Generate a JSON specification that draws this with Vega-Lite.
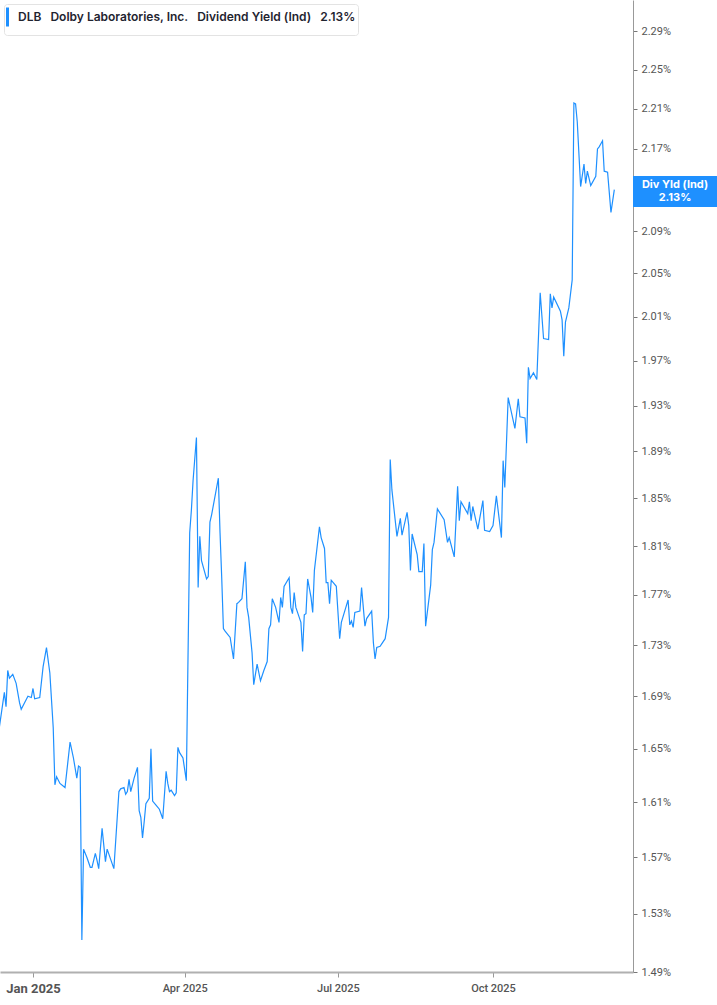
{
  "$schema": "https://vega.github.io/schema/vega-lite/v6.json",
  "width": 633,
  "height": 972,
  "autosize": "none",
  "padding": {"left": 0, "top": 0, "right": 84, "bottom": 33},
  "background": "white",
  "config": {"view": {"stroke": null}, "font": "Roboto"},
  "data": {
    "values": [
      {"date": "2024-12-12", "yield": 1.666}, {"date": "2024-12-15", "yield": 1.693}, {"date": "2024-12-16", "yield": 1.682},
      {"date": "2024-12-17", "yield": 1.710}, {"date": "2024-12-18", "yield": 1.704}, {"date": "2024-12-20", "yield": 1.707},
      {"date": "2024-12-22", "yield": 1.700}, {"date": "2024-12-24", "yield": 1.685}, {"date": "2024-12-25", "yield": 1.680},
      {"date": "2024-12-27", "yield": 1.685}, {"date": "2024-12-29", "yield": 1.690}, {"date": "2024-12-31", "yield": 1.689},
      {"date": "2025-01-01", "yield": 1.696}, {"date": "2025-01-02", "yield": 1.688}, {"date": "2025-01-05", "yield": 1.689},
      {"date": "2025-01-07", "yield": 1.713}, {"date": "2025-01-09", "yield": 1.728}, {"date": "2025-01-11", "yield": 1.708},
      {"date": "2025-01-13", "yield": 1.666}, {"date": "2025-01-14", "yield": 1.623}, {"date": "2025-01-15", "yield": 1.629},
      {"date": "2025-01-17", "yield": 1.624}, {"date": "2025-01-20", "yield": 1.621}, {"date": "2025-01-23", "yield": 1.655},
      {"date": "2025-01-25", "yield": 1.643}, {"date": "2025-01-27", "yield": 1.628}, {"date": "2025-01-28", "yield": 1.637},
      {"date": "2025-01-29", "yield": 1.636}, {"date": "2025-01-30", "yield": 1.512}, {"date": "2025-01-31", "yield": 1.576},
      {"date": "2025-02-02", "yield": 1.570}, {"date": "2025-02-04", "yield": 1.563}, {"date": "2025-02-05", "yield": 1.563},
      {"date": "2025-02-07", "yield": 1.573}, {"date": "2025-02-08", "yield": 1.568}, {"date": "2025-02-09", "yield": 1.562},
      {"date": "2025-02-11", "yield": 1.591}, {"date": "2025-02-13", "yield": 1.567}, {"date": "2025-02-14", "yield": 1.576},
      {"date": "2025-02-16", "yield": 1.569}, {"date": "2025-02-18", "yield": 1.562}, {"date": "2025-02-21", "yield": 1.618},
      {"date": "2025-02-22", "yield": 1.620}, {"date": "2025-02-24", "yield": 1.621}, {"date": "2025-02-25", "yield": 1.616},
      {"date": "2025-02-26", "yield": 1.618}, {"date": "2025-02-27", "yield": 1.627}, {"date": "2025-02-28", "yield": 1.618},
      {"date": "2025-03-02", "yield": 1.628}, {"date": "2025-03-04", "yield": 1.636}, {"date": "2025-03-05", "yield": 1.604},
      {"date": "2025-03-06", "yield": 1.599}, {"date": "2025-03-07", "yield": 1.584}, {"date": "2025-03-08", "yield": 1.596},
      {"date": "2025-03-09", "yield": 1.609}, {"date": "2025-03-11", "yield": 1.613}, {"date": "2025-03-12", "yield": 1.650},
      {"date": "2025-03-13", "yield": 1.611}, {"date": "2025-03-15", "yield": 1.608}, {"date": "2025-03-17", "yield": 1.605},
      {"date": "2025-03-19", "yield": 1.598}, {"date": "2025-03-21", "yield": 1.633}, {"date": "2025-03-22", "yield": 1.624},
      {"date": "2025-03-23", "yield": 1.618}, {"date": "2025-03-24", "yield": 1.619}, {"date": "2025-03-26", "yield": 1.615},
      {"date": "2025-03-27", "yield": 1.617}, {"date": "2025-03-28", "yield": 1.651}, {"date": "2025-03-29", "yield": 1.647},
      {"date": "2025-03-31", "yield": 1.643}, {"date": "2025-04-02", "yield": 1.626}, {"date": "2025-04-04", "yield": 1.821},
      {"date": "2025-04-05", "yield": 1.840}, {"date": "2025-04-06", "yield": 1.865}, {"date": "2025-04-08", "yield": 1.902},
      {"date": "2025-04-09", "yield": 1.776}, {"date": "2025-04-10", "yield": 1.818}, {"date": "2025-04-11", "yield": 1.798},
      {"date": "2025-04-14", "yield": 1.783}, {"date": "2025-04-15", "yield": 1.785}, {"date": "2025-04-16", "yield": 1.830},
      {"date": "2025-04-17", "yield": 1.836}, {"date": "2025-04-21", "yield": 1.867}, {"date": "2025-04-22", "yield": 1.821},
      {"date": "2025-04-23", "yield": 1.784}, {"date": "2025-04-24", "yield": 1.743}, {"date": "2025-04-25", "yield": 1.741},
      {"date": "2025-04-28", "yield": 1.736}, {"date": "2025-04-30", "yield": 1.719}, {"date": "2025-05-02", "yield": 1.763},
      {"date": "2025-05-03", "yield": 1.764}, {"date": "2025-05-05", "yield": 1.767}, {"date": "2025-05-07", "yield": 1.797},
      {"date": "2025-05-08", "yield": 1.760}, {"date": "2025-05-09", "yield": 1.752}, {"date": "2025-05-11", "yield": 1.724},
      {"date": "2025-05-12", "yield": 1.699}, {"date": "2025-05-14", "yield": 1.715}, {"date": "2025-05-16", "yield": 1.702},
      {"date": "2025-05-18", "yield": 1.710}, {"date": "2025-05-20", "yield": 1.717}, {"date": "2025-05-21", "yield": 1.743},
      {"date": "2025-05-22", "yield": 1.746}, {"date": "2025-05-23", "yield": 1.767}, {"date": "2025-05-25", "yield": 1.760},
      {"date": "2025-05-27", "yield": 1.748}, {"date": "2025-05-28", "yield": 1.768}, {"date": "2025-05-29", "yield": 1.760},
      {"date": "2025-05-30", "yield": 1.777}, {"date": "2025-06-02", "yield": 1.784}, {"date": "2025-06-03", "yield": 1.760},
      {"date": "2025-06-04", "yield": 1.755}, {"date": "2025-06-05", "yield": 1.772}, {"date": "2025-06-06", "yield": 1.760},
      {"date": "2025-06-08", "yield": 1.752}, {"date": "2025-06-09", "yield": 1.748}, {"date": "2025-06-10", "yield": 1.725},
      {"date": "2025-06-11", "yield": 1.754}, {"date": "2025-06-12", "yield": 1.755}, {"date": "2025-06-13", "yield": 1.783},
      {"date": "2025-06-15", "yield": 1.768}, {"date": "2025-06-16", "yield": 1.756}, {"date": "2025-06-17", "yield": 1.790},
      {"date": "2025-06-20", "yield": 1.826}, {"date": "2025-06-21", "yield": 1.817}, {"date": "2025-06-23", "yield": 1.808},
      {"date": "2025-06-24", "yield": 1.780}, {"date": "2025-06-25", "yield": 1.780}, {"date": "2025-06-26", "yield": 1.763},
      {"date": "2025-06-27", "yield": 1.782}, {"date": "2025-06-30", "yield": 1.777}, {"date": "2025-07-02", "yield": 1.735},
      {"date": "2025-07-03", "yield": 1.748}, {"date": "2025-07-07", "yield": 1.766}, {"date": "2025-07-08", "yield": 1.746},
      {"date": "2025-07-09", "yield": 1.749}, {"date": "2025-07-10", "yield": 1.744}, {"date": "2025-07-11", "yield": 1.756},
      {"date": "2025-07-14", "yield": 1.757}, {"date": "2025-07-15", "yield": 1.776}, {"date": "2025-07-17", "yield": 1.745},
      {"date": "2025-07-18", "yield": 1.751}, {"date": "2025-07-21", "yield": 1.757}, {"date": "2025-07-22", "yield": 1.732},
      {"date": "2025-07-23", "yield": 1.719}, {"date": "2025-07-24", "yield": 1.728}, {"date": "2025-07-26", "yield": 1.729},
      {"date": "2025-07-29", "yield": 1.735}, {"date": "2025-07-31", "yield": 1.752}, {"date": "2025-08-01", "yield": 1.883},
      {"date": "2025-08-02", "yield": 1.857}, {"date": "2025-08-05", "yield": 1.818}, {"date": "2025-08-07", "yield": 1.833},
      {"date": "2025-08-08", "yield": 1.819}, {"date": "2025-08-11", "yield": 1.838}, {"date": "2025-08-12", "yield": 1.827},
      {"date": "2025-08-13", "yield": 1.790}, {"date": "2025-08-14", "yield": 1.820}, {"date": "2025-08-17", "yield": 1.803},
      {"date": "2025-08-18", "yield": 1.789}, {"date": "2025-08-20", "yield": 1.789}, {"date": "2025-08-21", "yield": 1.812},
      {"date": "2025-08-22", "yield": 1.745}, {"date": "2025-08-25", "yield": 1.778}, {"date": "2025-08-26", "yield": 1.807},
      {"date": "2025-08-27", "yield": 1.813}, {"date": "2025-08-29", "yield": 1.841}, {"date": "2025-09-02", "yield": 1.832},
      {"date": "2025-09-04", "yield": 1.813}, {"date": "2025-09-05", "yield": 1.817}, {"date": "2025-09-08", "yield": 1.801},
      {"date": "2025-09-10", "yield": 1.860}, {"date": "2025-09-11", "yield": 1.831}, {"date": "2025-09-12", "yield": 1.847},
      {"date": "2025-09-16", "yield": 1.837}, {"date": "2025-09-17", "yield": 1.847}, {"date": "2025-09-18", "yield": 1.831},
      {"date": "2025-09-19", "yield": 1.843}, {"date": "2025-09-22", "yield": 1.824}, {"date": "2025-09-25", "yield": 1.848},
      {"date": "2025-09-26", "yield": 1.823}, {"date": "2025-09-29", "yield": 1.822}, {"date": "2025-10-01", "yield": 1.827},
      {"date": "2025-10-03", "yield": 1.852}, {"date": "2025-10-06", "yield": 1.817}, {"date": "2025-10-07", "yield": 1.882},
      {"date": "2025-10-08", "yield": 1.859}, {"date": "2025-10-10", "yield": 1.937}, {"date": "2025-10-14", "yield": 1.910},
      {"date": "2025-10-16", "yield": 1.936}, {"date": "2025-10-17", "yield": 1.920}, {"date": "2025-10-20", "yield": 1.919},
      {"date": "2025-10-21", "yield": 1.897}, {"date": "2025-10-22", "yield": 1.964}, {"date": "2025-10-23", "yield": 1.954},
      {"date": "2025-10-25", "yield": 1.959}, {"date": "2025-10-27", "yield": 1.953}, {"date": "2025-10-29", "yield": 2.032},
      {"date": "2025-10-31", "yield": 1.990}, {"date": "2025-11-03", "yield": 1.989}, {"date": "2025-11-04", "yield": 2.031},
      {"date": "2025-11-05", "yield": 2.018}, {"date": "2025-11-06", "yield": 2.028}, {"date": "2025-11-10", "yield": 2.015},
      {"date": "2025-11-11", "yield": 2.007}, {"date": "2025-11-12", "yield": 1.974}, {"date": "2025-11-13", "yield": 2.005},
      {"date": "2025-11-15", "yield": 2.018}, {"date": "2025-11-17", "yield": 2.044}, {"date": "2025-11-18", "yield": 2.216},
      {"date": "2025-11-19", "yield": 2.215}, {"date": "2025-11-20", "yield": 2.197}, {"date": "2025-11-22", "yield": 2.133},
      {"date": "2025-11-24", "yield": 2.155}, {"date": "2025-11-25", "yield": 2.136}, {"date": "2025-11-26", "yield": 2.148},
      {"date": "2025-11-28", "yield": 2.134}, {"date": "2025-12-01", "yield": 2.143}, {"date": "2025-12-02", "yield": 2.170},
      {"date": "2025-12-03", "yield": 2.172}, {"date": "2025-12-05", "yield": 2.178}, {"date": "2025-12-06", "yield": 2.148},
      {"date": "2025-12-08", "yield": 2.147}, {"date": "2025-12-10", "yield": 2.108}, {"date": "2025-12-12", "yield": 2.130}
    ]
  },
  "encoding": {
    "x": {
      "field": "date",
      "type": "temporal",
      "title": null,
      "scale": {
        "domain": [
          {"year": 2024, "month": 12, "date": 12, "hours": 10, "utc": true},
          {"year": 2025, "month": 12, "date": 23, "hours": 2, "utc": true}
        ]
      },
      "axis": {
        "values": [
          {"year": 2025, "month": 1, "date": 1, "utc": true},
          {"year": 2025, "month": 4, "date": 1, "utc": true},
          {"year": 2025, "month": 7, "date": 1, "utc": true},
          {"year": 2025, "month": 10, "date": 1, "utc": true}
        ],
        "labelExpr": "utcFormat(datum.value, '%b %Y')",
        "labelFontWeight": {"condition": {"test": "utcmonth(datum.value) == 0", "value": "bold"}, "value": 500},
        "labelFontSize": {"condition": {"test": "utcmonth(datum.value) == 0", "value": 13}, "value": 11},
        "labelColor": "#555555",
        "labelPadding": 5,
        "tickSize": 5,
        "tickColor": "#999999",
        "domainColor": "#b0b0b0",
        "domainWidth": 2,
        "grid": false
      }
    },
    "y": {
      "field": "yield",
      "type": "quantitative",
      "title": null,
      "scale": {"type": "log", "domain": [1.49, 2.3227], "nice": false, "zero": false},
      "axis": {
        "orient": "right",
        "values": [1.49, 1.53, 1.57, 1.61, 1.65, 1.69, 1.73, 1.77, 1.81, 1.85, 1.89, 1.93, 1.97, 2.01, 2.05, 2.09, 2.17, 2.21, 2.25, 2.29],
        "labelExpr": "format(datum.value, '.2f') + '%'",
        "labelColor": "#555555",
        "labelFontSize": 11,
        "labelPadding": 4,
        "tickSize": 4,
        "tickColor": "#777777",
        "domainColor": "#999999",
        "grid": false
      }
    }
  },
  "layer": [
    {
      "mark": {"type": "line", "strokeWidth": 1.2},
      "encoding": {
        "color": {
          "datum": "DLB\u00a0\u00a0\u00a0Dolby Laboratories, Inc.\u00a0\u00a0\u00a0Dividend Yield (Ind)\u00a0\u00a0\u00a02.13%",
          "scale": {"range": ["#1e90ff"]},
          "legend": {
            "title": null,
            "orient": "top-left",
            "offset": 4,
            "symbolType": "M-1,-1L-1,1",
            "symbolSize": 361,
            "symbolStrokeWidth": 3,
            "labelFont": "Inter",
            "labelFontSize": 12,
            "labelFontWeight": 600,
            "labelColor": "#1f2430",
            "labelLimit": 0,
            "labelOffset": -10,
            "padding": 2,
            "strokeColor": "#e3e3e3",
            "fillColor": "white",
            "cornerRadius": 3
          }
        }
      }
    },
    {
      "transform": [{"filter": {"field": "date", "equal": {"year": 2025, "month": 12, "date": 12, "utc": true}}}],
      "mark": {"type": "rect", "color": "#1e90ff", "width": 84, "height": 31, "xOffset": 42, "yOffset": 2, "clip": false},
      "encoding": {
        "x": {"datum": {"year": 2025, "month": 12, "date": 23, "hours": 2, "utc": true}, "type": "temporal"}
      }
    },
    {
      "transform": [
        {"filter": {"field": "date", "equal": {"year": 2025, "month": 12, "date": 12, "utc": true}}},
        {"calculate": "['Div Yld (Ind)', format(datum.yield, '.2f') + '%']", "as": "label"}
      ],
      "mark": {"type": "text", "color": "white", "font": "Inter", "fontWeight": "bold", "fontSize": 11, "lineHeight": 13, "align": "center", "baseline": "middle", "xOffset": 42, "yOffset": -4.5, "clip": false},
      "encoding": {
        "x": {"datum": {"year": 2025, "month": 12, "date": 23, "hours": 2, "utc": true}, "type": "temporal"},
        "text": {"field": "label", "type": "nominal"}
      }
    }
  ]
}
